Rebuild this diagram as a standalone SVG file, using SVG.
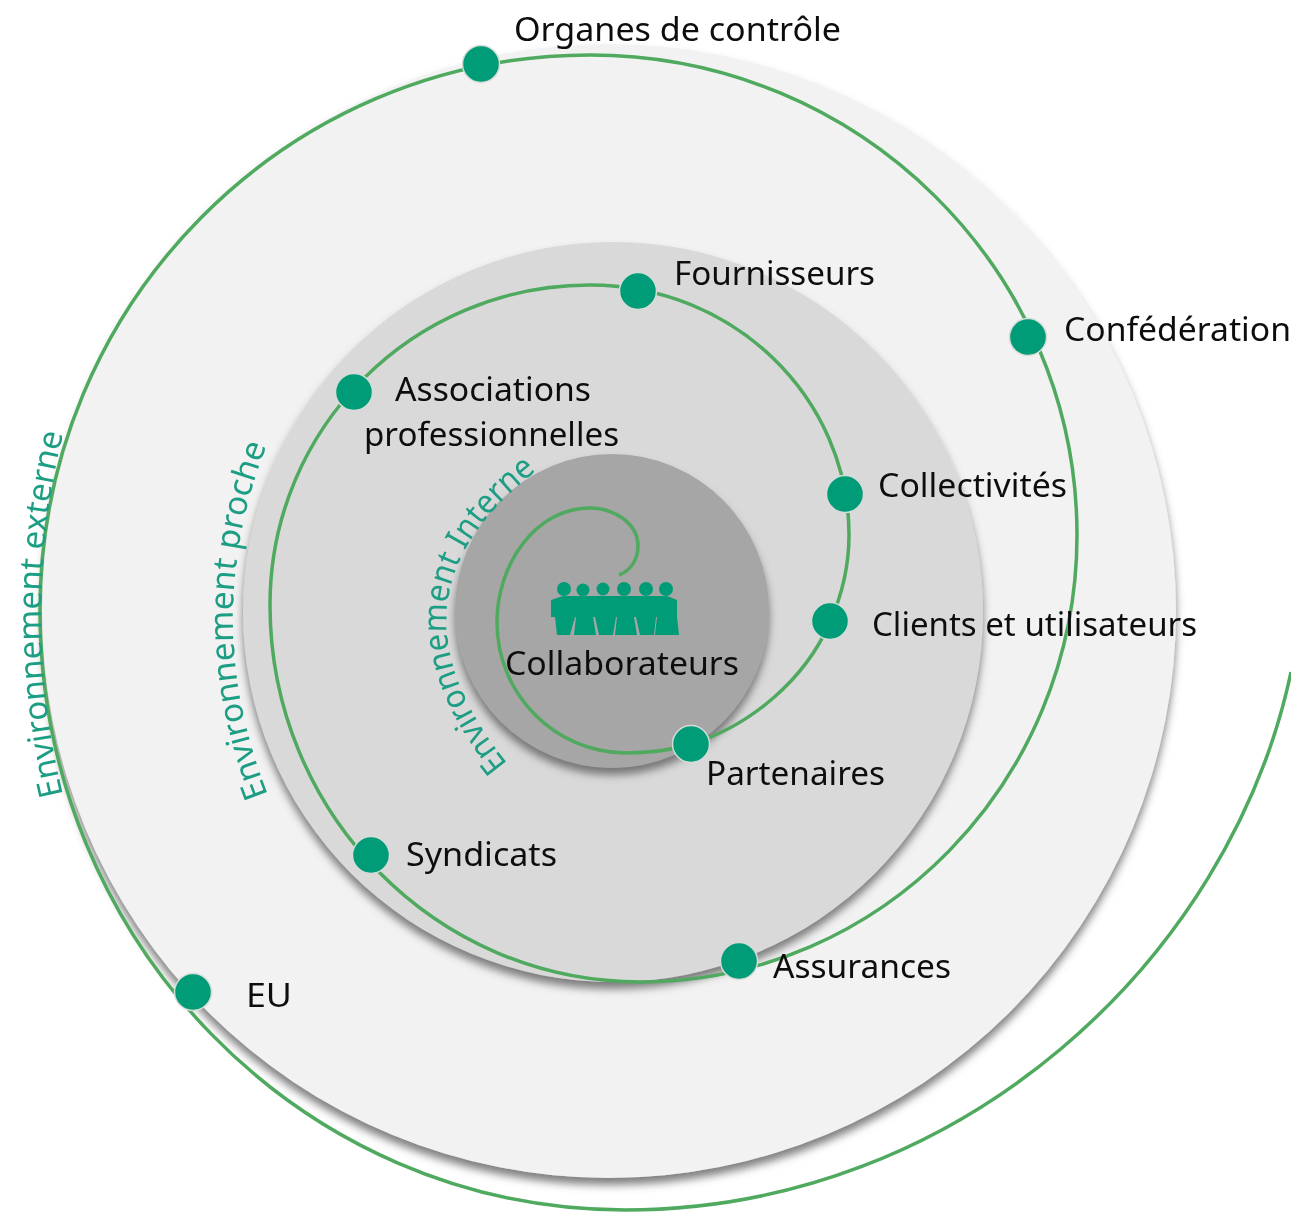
<svg xmlns="http://www.w3.org/2000/svg" width="1291" height="1212" viewBox="0 0 1291 1212">
<style>
.lbl{font-family:"Noto Sans","Open Sans",sans-serif;font-size:33px;fill:#111}
.env{font-family:"Noto Sans","Open Sans",sans-serif;font-size:33px;fill:#1f9e84}
.dot{fill:#009b77;stroke:#d5dcd8;stroke-width:1.5}
.sp{fill:none;stroke:#4fa95f;stroke-width:3.5}
</style>
<defs>
<filter id="sh" x="-10%" y="-10%" width="120%" height="120%"><feDropShadow dx="0" dy="7" stdDeviation="4" flood-color="#555" flood-opacity=".75"/></filter>
<filter id="soft" x="-5%" y="-20%" width="110%" height="140%"><feGaussianBlur stdDeviation="0.5"/></filter>
<path id="p1" d="M63 795Q19 612 64 430"/>
<path id="p2" d="M268 795Q197 615 270 437"/>
<path id="p3" d="M508 764Q375 600 530 476"/>
</defs>
<rect width="1291" height="1212" fill="#fff"/>
<g id="disks">
<circle cx="609" cy="611" r="567" fill="#f2f2f2" filter="url(#sh)"/>
<circle cx="613" cy="612" r="370" fill="#d9d9d9" filter="url(#sh)"/>
<circle cx="612" cy="611" r="157" fill="#a6a6a6" filter="url(#sh)"/>
</g>
<g id="connectors">
<path class="sp" d="M619 575C632 570 638 558 638 546C638 522 612 508 590 508C535 508 497 565 497 622C497 695 555 752 625 753C650 753 672 750 691 744C750 726 805 680 830 622C842 595 849 565 849 535C849 397 733 285 590 285C413 285 270 428 270 605C270 813 436 982 640 982C881 982 1077 782 1077 535C1077 270 859 55 590 55C286 55 40 304 40 610C40 941 302 1210 625 1210C960 1210 1230 960 1291 672"/>
</g>
<g id="icon-collaborateurs" fill="#009b77">
<circle cx="564" cy="589" r="7"/><circle cx="583" cy="590" r="6.5"/><circle cx="603" cy="589" r="6.5"/><circle cx="624" cy="589" r="7"/><circle cx="646" cy="589" r="7"/><circle cx="666" cy="589" r="7"/>
<path d="M551 600L563 596L667 596L677 600L677 617L679 635L557 635L555 617L551 617Z"/>
<path fill="#a6a6a6" d="M570 635L575 617L576 617L574 635ZM596 635L593 617L595 617L599 635ZM613 635L616 617L617 617L615 635ZM637 635L634 617L636 617L640 635ZM654 635L656 617L657 617L655 635Z"/>
</g>
<g id="n-organes"><circle class="dot" cx="481" cy="64" r="18.5"/><text class="lbl" filter="url(#soft)" x="514" y="41" textLength="327" lengthAdjust="spacingAndGlyphs">Organes de contrôle</text></g>
<g id="n-confederation"><circle class="dot" cx="1028" cy="337" r="18.5"/><text class="lbl" filter="url(#soft)" x="1064" y="341" textLength="227" lengthAdjust="spacingAndGlyphs">Confédération</text></g>
<g id="n-fournisseurs"><circle class="dot" cx="638" cy="291" r="18.5"/><text class="lbl" filter="url(#soft)" x="674" y="285" textLength="201" lengthAdjust="spacingAndGlyphs">Fournisseurs</text></g>
<g id="n-associations"><circle class="dot" cx="354" cy="392" r="18.5"/><text class="lbl" filter="url(#soft)" x="395" y="401" textLength="196" lengthAdjust="spacingAndGlyphs">Associations</text><text class="lbl" filter="url(#soft)" x="364" y="446" textLength="255" lengthAdjust="spacingAndGlyphs">professionnelles</text></g>
<g id="n-collectivites"><circle class="dot" cx="845" cy="494" r="18.5"/><text class="lbl" filter="url(#soft)" x="878" y="497" textLength="189" lengthAdjust="spacingAndGlyphs">Collectivités</text></g>
<g id="n-clients"><circle class="dot" cx="830" cy="621" r="18.5"/><text class="lbl" filter="url(#soft)" x="872" y="636" textLength="325" lengthAdjust="spacingAndGlyphs">Clients et utilisateurs</text></g>
<g id="n-collaborateurs"><text class="lbl" filter="url(#soft)" x="505" y="675" textLength="234" lengthAdjust="spacingAndGlyphs">Collaborateurs</text></g>
<g id="n-partenaires"><circle class="dot" cx="691" cy="744" r="18.5"/><text class="lbl" filter="url(#soft)" x="706" y="785" textLength="179" lengthAdjust="spacingAndGlyphs">Partenaires</text></g>
<g id="n-syndicats"><circle class="dot" cx="371" cy="855" r="18.5"/><text class="lbl" filter="url(#soft)" x="406" y="866" textLength="151" lengthAdjust="spacingAndGlyphs">Syndicats</text></g>
<g id="n-assurances"><circle class="dot" cx="739" cy="961" r="18.5"/><text class="lbl" filter="url(#soft)" x="773" y="978" textLength="178" lengthAdjust="spacingAndGlyphs">Assurances</text></g>
<g id="n-eu"><circle class="dot" cx="193" cy="992" r="18.5"/><text class="lbl" filter="url(#soft)" x="246" y="1007" textLength="46" lengthAdjust="spacingAndGlyphs">EU</text></g>
<g id="env-labels">
<text class="env" filter="url(#soft)"><textPath href="#p1" textLength="365" lengthAdjust="spacingAndGlyphs">Environnement externe</textPath></text>
<text class="env" filter="url(#soft)"><textPath href="#p2" textLength="358" lengthAdjust="spacingAndGlyphs">Environnement proche</textPath></text>
<text class="env" filter="url(#soft)"><textPath href="#p3" textLength="340" lengthAdjust="spacingAndGlyphs">Environnement Interne</textPath></text>
</g>
</svg>
